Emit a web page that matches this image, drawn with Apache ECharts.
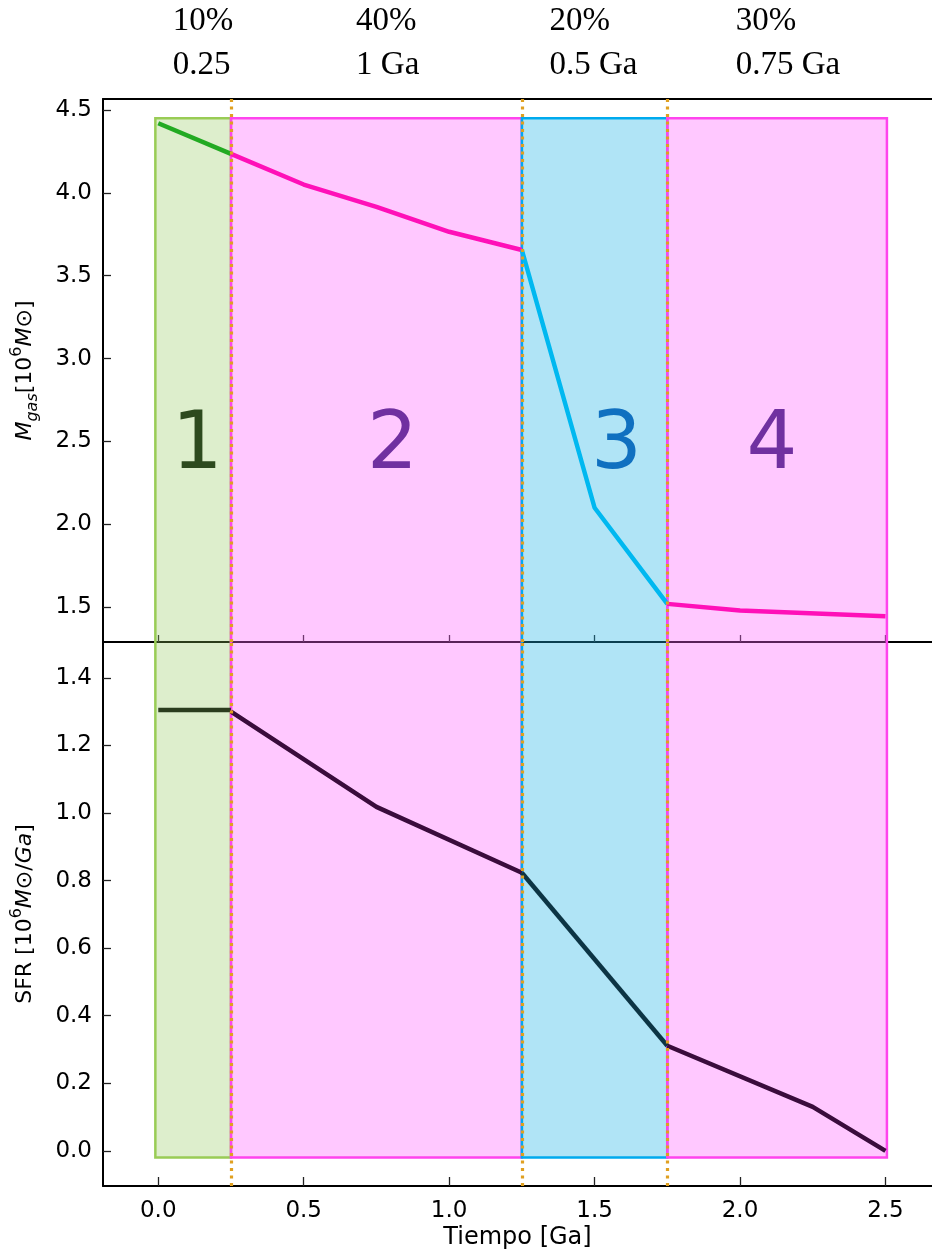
<!DOCTYPE html>
<html>
<head>
<meta charset="utf-8">
<script src="https://cdn.jsdelivr.net/npm/echarts@6/dist/echarts.min.js"></script>
<style>
  html, body { margin: 0; padding: 0; background: #fff; }
  #chart { width: 932px; height: 1257px; }
</style>
</head>
<body>
<div id="chart"></div>
<script>
var chart = echarts.init(document.getElementById('chart'));

// phases (Ga)
var phaseStart = [-0.01, 0.25, 1.25, 1.75];
var phaseEnd = [0.25, 1.25, 1.75, 2.505];
var phaseNames = ['1', '2', '3', '4'];
var phaseNameX = [0.134, 0.805, 1.575, 2.11];
var phasePercent = ['10%', '40%', '20%', '30%'];
var phaseDuration = ['0.25', '1 Ga', '0.5 Ga', '0.75 Ga'];
var headerX = [0.05, 0.68, 1.345, 1.985];
var boundaries = [0.25, 1.25, 1.75];

// ticks
var xTicks = [0, 0.5, 1.0, 1.5, 2.0, 2.5];
var gasTicks = [1.5, 2.0, 2.5, 3.0, 3.5, 4.0, 4.5];
var sfrTicks = [0, 0.2, 0.4, 0.6, 0.8, 1.0, 1.2, 1.4];

// gas mass, 10^6 Msun
var gasT1 = [0, 0.25];
var gasM1 = [4.42, 4.235];
var gasT2 = [0.25, 0.5, 0.75, 1.0, 1.25];
var gasM2 = [4.235, 4.05, 3.915, 3.765, 3.655];
var gasT3 = [1.25, 1.5, 1.75];
var gasM3 = [3.655, 2.1, 1.52];
var gasT4 = [1.75, 2.0, 2.5];
var gasM4 = [1.52, 1.48, 1.445];

// star formation rate, 10^6 Msun/Ga
var sfrT1 = [0, 0.25];
var sfr1 = [1.305, 1.305];
var sfrT2 = [0.25, 0.75, 1.25];
var sfr2 = [1.30, 1.018, 0.823];
var sfrT3 = [1.25, 1.75];
var sfr3 = [0.823, 0.311];
var sfrT4 = [1.75, 2.25, 2.5];
var sfr4 = [0.311, 0.13, 0.0];

var X_MIN = -0.19, X_MAX = 2.66;
var GAS_MIN = 1.29, GAS_MAX = 4.566;
var SFR_MIN = -0.104, SFR_MAX = 1.506;
var GAS_BOX_TOP = 4.45;
var SFR_BOX_BOTTOM = -0.02;

var phaseFill = ['rgba(142,198,85,0.3)', 'rgba(255,98,255,0.35)', 'rgba(29,178,229,0.35)', 'rgba(255,98,255,0.35)'];
var phaseEdge = ['#99cc55', '#ff44ee', '#00aaee', '#ff44ee'];
var phaseTextColor = ['#2d4a1e', '#7030a0', '#1070c0', '#7030a0'];

var FONT = 'DejaVu Sans';
var axisLineStyle = { color: '#000', width: 2 };
var tickStyle = { color: '#222', width: 1.3 };

function pairs(xs, ys) {
  return xs.map(function (x, k) { return [x, ys[k]]; });
}

function lineSeries(xi, yi, xs, ys, color) {
  return {
    type: 'line', xAxisIndex: xi, yAxisIndex: yi,
    data: pairs(xs, ys),
    symbol: 'none', silent: true, z: 3,
    lineStyle: { color: color, width: 4.5 }
  };
}

// boxes: closed side at closedY, open side runs to the axis edge
function boxSeries(xi, yi, closedY, openY) {
  return {
    type: 'custom', xAxisIndex: xi, yAxisIndex: yi, z: 2, silent: true,
    data: phaseStart.map(function (s, i) { return [s, phaseEnd[i], closedY, openY, i]; }),
    renderItem: function (params, api) {
      var i = api.value(4);
      var p0 = api.coord([api.value(0), api.value(2)]);
      var p1 = api.coord([api.value(1), api.value(3)]);
      return {
        type: 'group',
        children: [
          {
            type: 'rect',
            shape: {
              x: Math.min(p0[0], p1[0]), y: Math.min(p0[1], p1[1]),
              width: Math.abs(p1[0] - p0[0]), height: Math.abs(p1[1] - p0[1])
            },
            style: { fill: phaseFill[i] }
          },
          {
            type: 'polyline',
            shape: { points: [[p0[0], p1[1]], [p0[0], p0[1]], [p1[0], p0[1]], [p1[0], p1[1]]] },
            style: { fill: 'none', stroke: phaseEdge[i], lineWidth: 2.5 }
          }
        ]
      };
    }
  };
}

function dottedSeries(xi, yi) {
  return {
    type: 'line', xAxisIndex: xi, yAxisIndex: yi, data: [], z: 1, silent: true,
    markLine: {
      silent: true, symbol: ['none', 'none'], label: { show: false },
      lineStyle: { color: '#e0a020', width: 3.2, type: [3, 4.5] },
      data: boundaries.map(function (b) { return { xAxis: b }; })
    }
  };
}

var richName = {
  n: { fontSize: 22, fontFamily: FONT, color: '#000', lineHeight: 32 },
  i: { fontSize: 22, fontFamily: FONT, color: '#000', fontStyle: 'italic', lineHeight: 32 },
  s: { fontSize: 16, fontFamily: FONT, color: '#000', fontStyle: 'italic', lineHeight: 16, verticalAlign: 'bottom' },
  p: { fontSize: 16, fontFamily: FONT, color: '#000', lineHeight: 16, verticalAlign: 'top' }
};

function yAxis(gi, min, max, ticks, name) {
  return {
    gridIndex: gi, type: 'value', min: min, max: max,
    axisLine: { show: true, onZero: false, lineStyle: axisLineStyle },
    axisTick: { show: true, inside: true, length: 8, customValues: ticks, lineStyle: tickStyle },
    axisLabel: {
      customValues: ticks, fontSize: 23, fontFamily: FONT, color: '#000', margin: 11,
      formatter: function (v) { return v.toFixed(1); }
    },
    splitLine: { show: false },
    name: name, nameLocation: 'middle', nameRotate: 90, nameGap: 62,
    nameTextStyle: { fontSize: 22, fontFamily: FONT, color: '#000', rich: richName }
  };
}

var option = {
  animation: false,
  backgroundColor: '#fff',
  grid: [
    { left: 103, top: 99, right: 0, height: 543 },
    { left: 103, top: 642, right: 0, height: 544 }
  ],
  xAxis: [
    {
      gridIndex: 0, type: 'value', min: X_MIN, max: X_MAX, position: 'bottom',
      axisLine: { show: true, onZero: false, lineStyle: axisLineStyle },
      axisTick: { show: true, inside: true, length: 7, customValues: xTicks, lineStyle: tickStyle },
      axisLabel: { show: false }, splitLine: { show: false }
    },
    {
      gridIndex: 0, type: 'value', min: X_MIN, max: X_MAX, position: 'top',
      axisLine: { show: true, onZero: false, lineStyle: axisLineStyle },
      axisTick: { show: false }, axisLabel: { show: false }, splitLine: { show: false }
    },
    {
      gridIndex: 1, type: 'value', min: X_MIN, max: X_MAX, position: 'bottom',
      axisLine: { show: true, onZero: false, lineStyle: axisLineStyle },
      axisTick: { show: true, inside: true, length: 9, customValues: xTicks, lineStyle: tickStyle },
      axisLabel: {
        customValues: xTicks, fontSize: 23, fontFamily: FONT, color: '#000', margin: 14,
        formatter: function (v) { return v.toFixed(1); }
      },
      splitLine: { show: false },
      name: 'Tiempo [Ga]', nameLocation: 'middle', nameGap: 40,
      nameTextStyle: { fontSize: 24, fontFamily: FONT, color: '#000' }
    }
  ],
  yAxis: [
    yAxis(0, GAS_MIN, GAS_MAX, gasTicks, '{i|M}{s|gas}{n|[10}{p|6}{i|M}{n|⊙]}'),
    yAxis(1, SFR_MIN, SFR_MAX, sfrTicks, '{n|SFR [10}{p|6}{i|M}{n|⊙/}{i|Ga}{n|]}')
  ],
  series: [
    dottedSeries(0, 0),
    dottedSeries(2, 1),
    boxSeries(0, 0, GAS_BOX_TOP, GAS_MIN),
    boxSeries(2, 1, SFR_BOX_BOTTOM, SFR_MAX),
    lineSeries(0, 0, gasT1, gasM1, '#22aa22'),
    lineSeries(0, 0, gasT2, gasM2, '#ff10b8'),
    lineSeries(0, 0, gasT3, gasM3, '#00b8f0'),
    lineSeries(0, 0, gasT4, gasM4, '#ff10b8'),
    lineSeries(2, 1, sfrT1, sfr1, '#2b3d1e'),
    lineSeries(2, 1, sfrT2, sfr2, '#3a0c3c'),
    lineSeries(2, 1, sfrT3, sfr3, '#0c3444'),
    lineSeries(2, 1, sfrT4, sfr4, '#3a0c3c'),
    {
      type: 'line', xAxisIndex: 0, yAxisIndex: 0, data: [], z: 4, silent: true,
      markPoint: {
        symbol: 'circle', symbolSize: 0, silent: true,
        data: phaseNames.map(function (n, i) {
          return {
            coord: [phaseNameX[i], 2.5], value: n,
            label: { color: phaseTextColor[i] }
          };
        }),
        label: { show: true, position: 'inside', offset: [0, 6], formatter: '{c}', fontSize: 80, fontFamily: FONT }
      }
    }
  ]
};
chart.setOption(option);

// header with phase share and duration
var headers = [];
headerX.forEach(function (x, i) {
  var px = chart.convertToPixel({ xAxisIndex: 2 }, x);
  headers.push({
    type: 'text', x: px, y: 21,
    style: { text: phasePercent[i], fontSize: 33, fontFamily: 'Liberation Serif', fill: '#000', align: 'left', verticalAlign: 'middle' }
  });
  headers.push({
    type: 'text', x: px, y: 65,
    style: { text: phaseDuration[i], fontSize: 33, fontFamily: 'Liberation Serif', fill: '#000', align: 'left', verticalAlign: 'middle' }
  });
});
chart.setOption({ graphic: headers });
</script>
</body>
</html>
